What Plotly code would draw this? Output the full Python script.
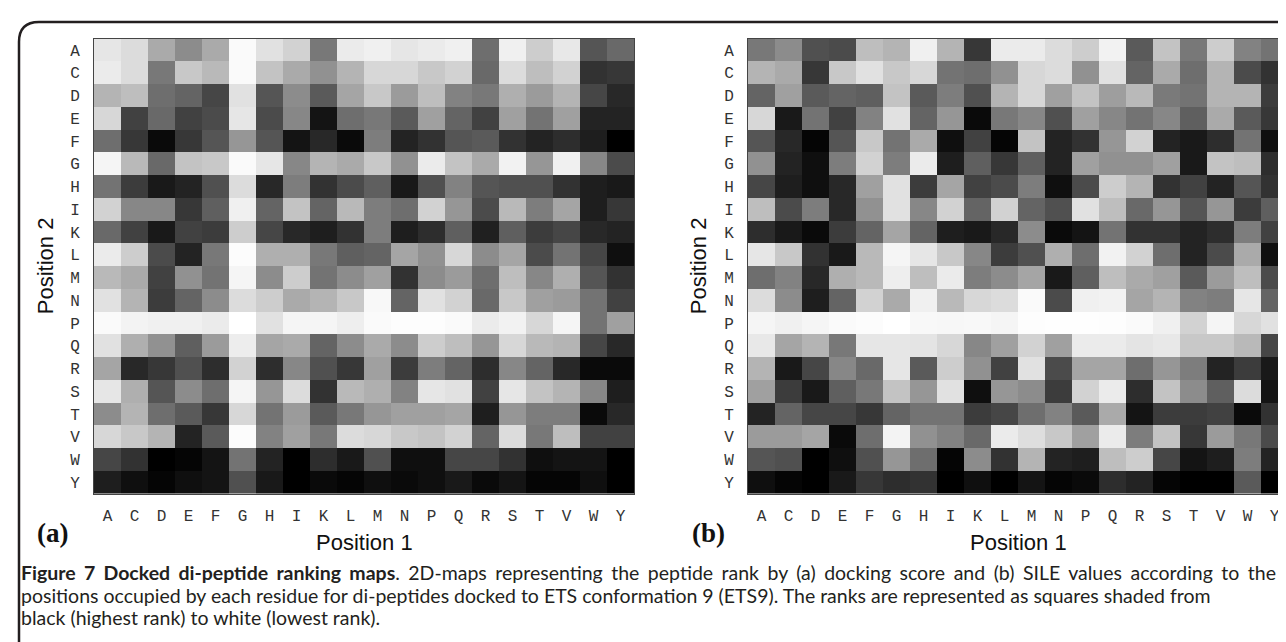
import plotly.graph_objects as go

W, H = 1286, 642

residues = ["A", "C", "D", "E", "F", "G", "H", "I", "K", "L",
            "M", "N", "P", "Q", "R", "S", "T", "V", "W", "Y"]

# Grey shade: 0 = black (highest rank) ... 255 = white (lowest rank)
# rows = Position 2 (A..Y), columns = Position 1 (A..Y)
shade_a = [
    [230, 220, 170, 140, 170, 250, 225, 210, 120, 235, 240, 230, 235, 240, 110, 240, 205, 232, 85, 105],
    [235, 220, 120, 200, 185, 250, 195, 170, 145, 180, 215, 215, 200, 210, 105, 220, 190, 210, 50, 55],
    [180, 190, 110, 100, 70, 225, 85, 140, 90, 165, 200, 155, 190, 130, 120, 175, 155, 180, 70, 40],
    [215, 65, 105, 65, 75, 230, 75, 135, 20, 110, 120, 90, 160, 100, 65, 160, 115, 160, 35, 35],
    [110, 55, 10, 55, 85, 150, 85, 20, 40, 10, 125, 35, 50, 85, 90, 50, 35, 45, 30, 0],
    [245, 185, 105, 195, 200, 250, 230, 135, 180, 170, 200, 145, 235, 195, 170, 242, 150, 240, 135, 75],
    [115, 60, 25, 35, 80, 220, 40, 125, 50, 75, 95, 25, 80, 130, 85, 80, 80, 50, 30, 25],
    [210, 135, 135, 55, 95, 240, 100, 195, 100, 185, 125, 110, 210, 150, 75, 185, 125, 165, 30, 55],
    [105, 65, 25, 65, 60, 205, 70, 40, 30, 50, 125, 30, 45, 95, 32, 95, 60, 70, 40, 35],
    [235, 205, 75, 35, 120, 252, 175, 175, 120, 95, 100, 165, 145, 215, 140, 165, 75, 115, 70, 15],
    [185, 170, 65, 145, 115, 245, 140, 205, 115, 140, 160, 50, 140, 155, 110, 190, 135, 175, 85, 50],
    [225, 180, 60, 100, 140, 220, 205, 170, 180, 200, 248, 100, 225, 210, 105, 200, 160, 155, 115, 65],
    [250, 243, 240, 240, 235, 255, 225, 245, 245, 238, 250, 253, 253, 250, 235, 242, 215, 245, 115, 160],
    [225, 175, 145, 95, 155, 237, 165, 170, 100, 140, 170, 140, 205, 190, 150, 215, 185, 180, 70, 40],
    [165, 40, 55, 80, 45, 210, 45, 135, 80, 55, 160, 60, 125, 100, 45, 135, 100, 40, 10, 10],
    [230, 175, 85, 140, 110, 245, 150, 220, 50, 185, 175, 130, 230, 225, 65, 230, 195, 180, 135, 30],
    [140, 180, 110, 90, 55, 215, 115, 155, 90, 120, 150, 160, 160, 165, 30, 150, 125, 125, 10, 40],
    [215, 200, 180, 35, 90, 252, 130, 160, 120, 220, 215, 200, 195, 210, 100, 220, 120, 190, 65, 65],
    [70, 50, 0, 5, 20, 115, 35, 0, 45, 25, 80, 15, 15, 70, 70, 50, 15, 20, 20, 0],
    [30, 15, 5, 15, 20, 80, 25, 0, 10, 5, 15, 10, 15, 25, 10, 20, 5, 5, 15, 0],
]

shade_b = [
    [120, 140, 80, 75, 190, 180, 240, 180, 55, 235, 235, 220, 205, 242, 90, 195, 120, 205, 130, 115],
    [180, 170, 55, 200, 225, 200, 215, 115, 110, 145, 215, 220, 145, 225, 100, 170, 110, 180, 75, 50],
    [100, 160, 90, 100, 95, 195, 90, 125, 80, 180, 215, 160, 195, 158, 185, 122, 115, 180, 180, 60],
    [215, 25, 115, 65, 130, 225, 100, 150, 10, 120, 135, 80, 160, 135, 115, 135, 95, 170, 90, 55],
    [85, 40, 5, 85, 200, 115, 170, 15, 65, 5, 195, 35, 50, 150, 210, 35, 25, 45, 115, 15],
    [145, 35, 15, 125, 210, 125, 235, 30, 95, 55, 95, 35, 160, 145, 145, 160, 25, 195, 190, 45],
    [70, 30, 15, 40, 160, 225, 60, 165, 65, 75, 125, 15, 75, 205, 180, 50, 65, 35, 85, 50],
    [190, 75, 125, 40, 145, 225, 135, 210, 100, 210, 100, 80, 225, 190, 105, 150, 85, 150, 60, 95],
    [45, 25, 10, 60, 100, 165, 100, 30, 25, 40, 140, 10, 20, 115, 50, 50, 35, 45, 125, 65],
    [230, 200, 50, 25, 185, 245, 230, 200, 135, 60, 80, 175, 110, 242, 210, 110, 35, 75, 170, 15],
    [110, 130, 40, 175, 185, 238, 190, 235, 125, 140, 165, 25, 95, 190, 170, 160, 90, 155, 190, 75],
    [220, 140, 30, 100, 210, 170, 240, 185, 215, 220, 250, 75, 240, 242, 165, 180, 130, 125, 230, 100],
    [245, 240, 245, 250, 252, 255, 248, 247, 248, 245, 253, 254, 254, 253, 250, 240, 210, 245, 215, 225],
    [232, 165, 180, 120, 230, 230, 228, 215, 135, 160, 210, 160, 235, 235, 228, 232, 200, 200, 185, 70],
    [180, 25, 70, 135, 105, 230, 90, 205, 145, 65, 225, 75, 165, 165, 110, 150, 125, 35, 60, 25],
    [160, 60, 25, 95, 120, 195, 150, 225, 15, 150, 140, 60, 210, 235, 45, 195, 140, 95, 220, 20],
    [35, 100, 70, 70, 55, 100, 115, 115, 60, 70, 110, 130, 90, 170, 20, 60, 60, 65, 10, 50],
    [155, 155, 165, 10, 110, 243, 145, 130, 105, 235, 222, 200, 160, 235, 125, 195, 55, 155, 120, 75],
    [85, 80, 0, 15, 80, 150, 110, 5, 140, 50, 180, 35, 30, 190, 205, 70, 20, 30, 125, 35],
    [15, 5, 0, 25, 55, 45, 50, 0, 15, 0, 20, 5, 10, 45, 35, 5, 0, 0, 90, 0],
]

panel_labels = ["(a)", "(b)"]
x_title = "Position 1"
y_title = "Position 2"
caption_bold = "Figure 7 Docked di-peptide ranking maps"
caption_lines = [
    ". 2D-maps representing the peptide rank by (a) docking score and (b) SILE values according to the",
    "positions occupied by each residue for di-peptides docked to ETS conformation 9 (ETS9). The ranks are represented as squares shaded from",
    "black (highest rank) to white (lowest rank).",
]


def px(x):
    return x / W


def py(y):
    return 1 - y / H


grey = [[0.0, "#000000"], [1.0, "#ffffff"]]

fig = go.Figure()
fig.add_trace(go.Heatmap(z=shade_a, x=residues, y=residues, colorscale=grey,
                         zmin=0, zmax=255, showscale=False, xaxis="x", yaxis="y"))
fig.add_trace(go.Heatmap(z=shade_b, x=residues, y=residues, colorscale=grey,
                         zmin=0, zmax=255, showscale=False, xaxis="x2", yaxis="y2"))

tick_font = dict(family="Courier New, Liberation Mono, monospace", size=16, color="#333")

heat_top, heat_bot = 30.7, 485.7
panels = [(86, 626), (740, 1280)]


def xaxis_cfg(x0, x1, anchor):
    return dict(domain=[px(x0), px(x1)], anchor=anchor, type="category",
                categoryorder="array", categoryarray=residues,
                tickfont=tick_font, ticks="outside", ticklen=7,
                tickcolor="rgba(0,0,0,0)", showline=True, linecolor="#444",
                linewidth=1, mirror=True, showgrid=False, zeroline=False,
                fixedrange=True)


def yaxis_cfg(anchor):
    return dict(domain=[py(heat_bot), py(heat_top)], anchor=anchor, type="category",
                categoryorder="array", categoryarray=residues, autorange="reversed",
                tickfont=tick_font, ticks="outside", ticklen=10,
                tickcolor="rgba(0,0,0,0)", showline=True, linecolor="#444",
                linewidth=1, mirror=True, showgrid=False, zeroline=False,
                fixedrange=True)


annotations = []
title_font = dict(family="Liberation Sans, Arial, sans-serif", size=22, color="#111")
y_title_x = [37, 690]
label_x = [44, 700]
for i, (x0, x1) in enumerate(panels):
    annotations.append(dict(text=x_title, x=px((x0 + x1) / 2), y=py(534),
                            xref="paper", yref="paper", showarrow=False,
                            xanchor="center", yanchor="middle", font=title_font))
    annotations.append(dict(text=y_title, x=px(y_title_x[i]), y=py((heat_top + heat_bot) / 2),
                            xref="paper", yref="paper", showarrow=False, textangle=-90,
                            xanchor="center", yanchor="middle", font=title_font))
    annotations.append(dict(text="<b>" + panel_labels[i] + "</b>", x=px(label_x[i]), y=py(525),
                            xref="paper", yref="paper", showarrow=False,
                            xanchor="center", yanchor="middle",
                            font=dict(family="Liberation Serif, Times New Roman, serif",
                                      size=27, color="#111")))

cap_font = dict(family="Lato, Noto Sans, sans-serif", size=19.5, color="#231f20")
cap_y = [564, 587, 609]
for i, line in enumerate(caption_lines):
    if i == 0:
        text = ('<span style="word-spacing:3.5px"><b>' + caption_bold + "</b>" + line + "</span>")
    else:
        text = line
    annotations.append(dict(text=text, x=px(11), y=py(cap_y[i]), xref="paper", yref="paper",
                            showarrow=False, xanchor="left", yanchor="middle", font=cap_font))

# outer frame (top and left edge with rounded corner)
r = 20
fx, fy = 11, 14
frame_path = (f"M {px(fx)},{py(H + 5)} L {px(fx)},{py(fy + r)} "
              f"Q {px(fx)},{py(fy)} {px(fx + r)},{py(fy)} L {px(W + 5)},{py(fy)}")

fig.update_layout(
    width=W, height=H,
    margin=dict(l=0, r=0, t=0, b=0),
    paper_bgcolor="white", plot_bgcolor="white",
    xaxis=xaxis_cfg(*panels[0], "y"),
    yaxis=yaxis_cfg("x"),
    xaxis2=xaxis_cfg(*panels[1], "y2"),
    yaxis2=yaxis_cfg("x2"),
    annotations=annotations,
    shapes=[dict(type="path", path=frame_path, xref="paper", yref="paper",
                 line=dict(color="#231f20", width=2.5))],
    showlegend=False,
)

fig.write_html("out.html")
